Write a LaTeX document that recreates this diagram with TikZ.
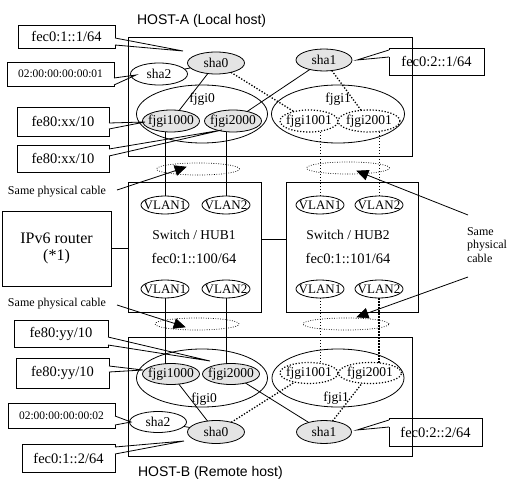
\documentclass[tikz,border=0pt]{standalone}
\usepackage{fontspec}
\setmainfont{Liberation Serif}
\newfontfamily\hostfont{Liberation Sans}
\usetikzlibrary{calc,shapes.geometric}
\definecolor{fillgray}{RGB}{228,228,228}
\newcommand\zz[1]{\makebox[0pt]{#1}}
\newcommand\calltail[5]{%
  \draw[white,line width=1.4pt] ($(#1.#2)+(0,#3)$) -- ($(#1.#2)+(0,#4)$);
  \draw[ln] ($(#1.#2)+(0,#3)$) -- (#5) -- ($(#1.#2)+(0,#4)$);}
\begin{document}
\begin{tikzpicture}[x=1pt,y=-1pt,
 every node/.style={inner sep=0pt,outer sep=0pt},
 ln/.style={line width=0.8pt},
 head/.style={draw=black, fill=black, line width=0.6pt, line join=miter},
 dotln/.style={line width=1.3pt, dash pattern=on 1.3pt off 1.7pt},
 thindot/.style={line width=0.7pt, dash pattern=on 0.8pt off 1.6pt},
 el/.style={ellipse, draw, line width=0.8pt, font=\fontsize{13.5}{15}\selectfont},
 gel/.style={el, fill=fillgray},
 del/.style={el, line width=1.2pt, dash pattern=on 1.2pt off 1.8pt},
 bigel/.style={el, minimum width=131, minimum height=58},
 smel/.style={minimum width=57, minimum height=22},
 vlan/.style={el, minimum width=48, minimum height=18, font=\fontsize{13}{14}\selectfont},
 bundle/.style={ellipse, draw, thindot, minimum width=83, minimum height=12},
 cbox/.style={draw, ln, anchor=north west, font=\fontsize{14.5}{16}\selectfont},
 sbox/.style={cbox, font=\fontsize{11.5}{13}\selectfont},
 hostbox/.style={draw, ln, anchor=north west, minimum width=284, minimum height=119},
 swbox/.style={draw, ln, anchor=north west, minimum width=133, minimum height=130},
 lbl/.style={font=\fontsize{13.5}{15}\selectfont},
 swtxt/.style={font=\fontsize{13.5}{15}\selectfont},
 swadr/.style={font=\fontsize{14.5}{16}\selectfont},
 note/.style={font=\fontsize{12}{13}\selectfont},
 hostlbl/.style={font=\hostfont\fontsize{14}{16}\selectfont, anchor=west},
]
\useasboundingbox (0,0) rectangle (529,494);

% ---------------- HOST-A ----------------
\node[hostbox] (hostA) at (128,37) {};
\node[hostlbl] (hostAl) at (137,21) {HOST-A (Local host)};
\node[bigel] (fjgiA0) at (202,114) {};
\node[lbl] (fjgiA0l) at (202,99) {fjgi0};
\node[bigel, minimum width=133] (fjgiA1) at (338,114) {};
\node[lbl] (fjgiA1l) at (338,99) {fjgi1};
\node[gel, smel] (fjgiA1000) at (171,121) {\zz{fjgi1000}};
\node[gel, smel] (fjgiA2000) at (233,121) {\zz{fjgi2000}};
\node[del, smel, minimum width=58] (fjgiA1001) at (309,121) {\zz{fjgi1001}};
\node[del, smel, minimum width=62] (fjgiA2001) at (369,121) {\zz{fjgi2001}};
\node[gel, smel] (shaA0) at (216,63) {\zz{sha0}};
\node[el, smel, fill=white] (shaA2) at (159,74) {\zz{sha2}};
\node[gel, smel, minimum width=56] (shaA1) at (324,60) {\zz{sha1}};
\draw[ln] (shaA0) -- (shaA2);
\draw[ln] (shaA0) -- (fjgiA1000);
\draw[dotln] (shaA0) -- (fjgiA1001);
\draw[ln] (shaA1) -- (fjgiA2000);
\draw[dotln] (shaA1) -- (fjgiA2001);

% callouts A
\node[cbox, minimum width=97, minimum height=23] (cA1) at (18,25) {fec0:1::1/64};
\coordinate (tA1) at (183,51);
\calltail{cA1}{north east}{13}{20}{tA1}
\node[sbox, minimum width=107, minimum height=24] (cA2) at (7,62) {02:00:00:00:00:01};
\coordinate (tA2) at (136,75);
\calltail{cA2}{north east}{16}{23}{tA2}
\node[cbox, minimum width=92, minimum height=29] (cA3) at (17,107) {fe80:xx/10};
\coordinate (tA3) at (145,122);
\calltail{cA3}{north east}{16}{22}{tA3}
\node[cbox, minimum width=92, minimum height=27] (cA4) at (17,145) {fe80:xx/10};
\coordinate (tA4) at (222,130);
\calltail{cA4}{north east}{4}{11}{tA4}
\node[cbox, minimum width=95, minimum height=27] (cA5) at (389,48) {fec0:2::1/64};
\coordinate (tA5) at (357,60);
\calltail{cA5}{north west}{2}{9}{tA5}

% ---------------- Switches ----------------
\node[swbox] (sw1) at (128,182) {};
\node[swtxt] (sw1t) at (194,235) {Switch / HUB1};
\node[swadr] (sw1a) at (194,258) {fec0:1::100/64};
\node[swbox, minimum width=132] (sw2) at (286,182) {};
\node[swtxt] (sw2t) at (348,235) {Switch / HUB2};
\node[swadr] (sw2a) at (348,258) {fec0:1::101/64};
\node[vlan] (v1a) at (165,205) {\zz{VLAN1}};
\node[vlan] (v1b) at (226,205) {\zz{VLAN2}};
\node[vlan] (v1c) at (165,289) {\zz{VLAN1}};
\node[vlan] (v1d) at (226,289) {\zz{VLAN2}};
\node[vlan] (v2a) at (320,205) {\zz{VLAN1}};
\node[vlan] (v2b) at (379,205) {\zz{VLAN2}};
\node[vlan] (v2c) at (320,289) {\zz{VLAN1}};
\node[vlan] (v2d) at (379,289) {\zz{VLAN2}};
\draw[ln] ([yshift=8pt]sw1.east) -- ([yshift=8pt]sw2.west);

\node[draw, ln, anchor=north west, minimum width=109, minimum height=75, align=center,
      font=\fontsize{16}{17}\selectfont] (router) at (2,211) {IPv6 router\\(*1)};
\draw[ln] (router.east) -- (router.east -| sw1.west);

% bundles
\node[bundle] (bA1) at (198,169) {};
\node[bundle] (bA2) at (348,168) {};
\node[bundle, minimum width=84] (bB1) at (197,324) {};
\node[bundle, minimum width=86] (bB2) at (346,324) {};

% ---------------- HOST-B ----------------
\node[hostbox] (hostB) at (128,337) {};
\node[hostlbl] (hostBl) at (138,473) {HOST-B (Remote host)};
\node[bigel] (fjgiB0) at (202,378) {};
\node[lbl] (fjgiB0l) at (204,399) {fjgi0};
\node[bigel, minimum width=132] (fjgiB1) at (338,378) {};
\node[lbl] (fjgiB1l) at (336,398) {fjgi1};
\node[gel, smel, minimum height=21] (fjgiB1000) at (171,374) {\zz{fjgi1000}};
\node[gel, smel, minimum height=21] (fjgiB2000) at (231,374) {\zz{fjgi2000}};
\node[del, smel, minimum width=58, minimum height=21] (fjgiB1001) at (309,373) {\zz{fjgi1001}};
\node[del, smel, minimum width=63, minimum height=21] (fjgiB2001) at (370,373) {\zz{fjgi2001}};
\node[el, smel, fill=white, minimum height=21] (shaB2) at (158,422) {\zz{sha2}};
\node[gel, smel, minimum height=23] (shaB0) at (216,432) {\zz{sha0}};
\node[gel, smel, minimum width=55, minimum height=23] (shaB1) at (324,432) {\zz{sha1}};
\draw[ln] (shaB0) -- (shaB2);
\draw[ln] (fjgiB1000) -- (shaB0);
\draw[dotln] (shaB0) -- (fjgiB1001);
\draw[ln] (fjgiB2000) -- (shaB1);
\draw[dotln] (shaB1) -- (fjgiB2001);

% callouts B
\node[cbox, minimum width=94, minimum height=27] (cB1) at (14,320) {fe80:yy/10};
\coordinate (tB1) at (210,361);
\calltail{cB1}{north east}{17}{25}{tB1}
\node[cbox, minimum width=93, minimum height=30] (cB2) at (16,358) {fe80:yy/10};
\coordinate (tB2) at (143,370);
\calltail{cB2}{north east}{8}{14}{tB2}
\node[sbox, minimum width=107, minimum height=25] (cB3) at (8,403) {02:00:00:00:00:02};
\coordinate (tB3) at (131,422);
\calltail{cB3}{north east}{13}{22}{tB3}
\node[cbox, minimum width=93, minimum height=28] (cB4) at (22,444) {fec0:1::2/64};
\coordinate (tB4) at (184,441);
\calltail{cB4}{north east}{3}{10}{tB4}
\node[cbox, minimum width=93, minimum height=28] (cB5) at (389,418) {fec0:2::2/64};
\coordinate (tB5) at (357,430);
\calltail{cB5}{north west}{2}{9}{tB5}

% ---------------- cables ----------------
\draw[ln] (v1a.north) -- (v1a.north |- fjgiA1000.south);
\draw[ln] (v1b.north) -- (v1b.north |- fjgiA2000.south);
\draw[dotln, line width=1pt] (v2a.north) -- (v2a.north |- fjgiA1001.south);
\draw[dotln, line width=1pt] (v2b.north) -- (v2b.north |- fjgiA2001.south);
\draw[ln] (v1c.south) -- (v1c.south |- fjgiB1000.north);
\draw[ln] (v1d.south) -- (v1d.south |- fjgiB2000.north);
\draw[dotln, line width=1pt] (v2c.south) -- (v2c.south |- fjgiB1001.north);
\draw[line width=2.2pt, dash pattern=on 1.5pt off 1.5pt] (v2d.south) -- (v2d.south |- fjgiB2001.north);

% ---------------- notes ----------------
\node[note, anchor=west] (scA) at (8,192) {Same physical cable};
\coordinate (scAs) at (117,190);
\coordinate (scAt) at (186,167);
\draw[ln] (scAs) -- (176,170.5);
\path[head] (scAt) -- (177.2,175.2) -- (174.0,165.7) -- cycle;

\node[note, anchor=west] (scB) at (8,304) {Same physical cable};
\coordinate (scBs) at (117,305);
\coordinate (scBt) at (185,327);
\draw[ln] (scBs) -- (175,323.6);
\path[head] (scBt) -- (173.0,328.4) -- (176.1,318.9) -- cycle;

\node[note, anchor=west, align=left, font=\fontsize{12}{13.5}\selectfont] (scR) at (467,245) {Same\\physical\\cable};
\coordinate (scR1) at (468,215);
\coordinate (scR1t) at (357,171);
\draw[ln] (scR1) -- (367,175);
\path[head] (scR1t) -- (369.1,170.4) -- (365.4,179.7) -- cycle;
\coordinate (scR2) at (468,277);
\coordinate (scR2t) at (357,317);
\draw[ln] (scR2) -- (367,313.3);
\path[head] (scR2t) -- (365.7,308.6) -- (369.1,318.0) -- cycle;
\end{tikzpicture}
\end{document}
